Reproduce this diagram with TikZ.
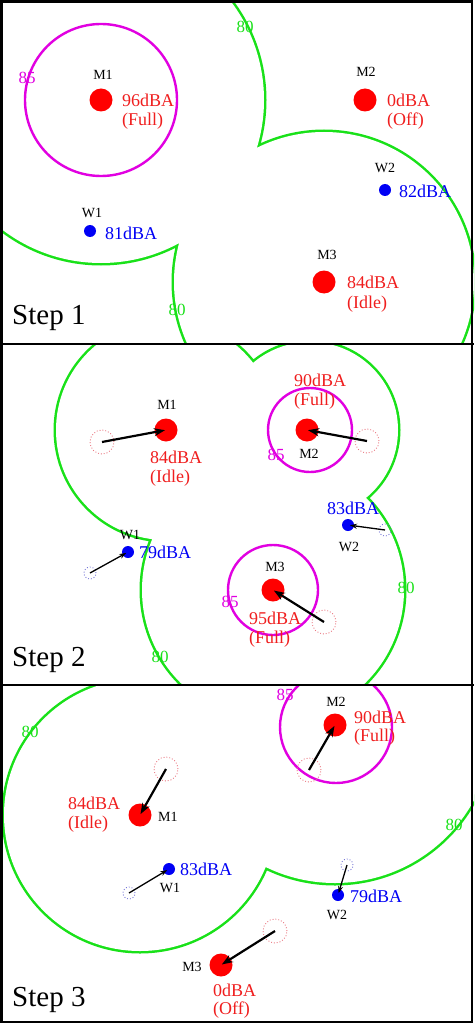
\documentclass[tikz,border=0pt]{standalone}
\usepackage{fontspec}
\setmainfont{Liberation Serif}
\usetikzlibrary{arrows.meta}
\definecolor{cgreen}{RGB}{25,225,25}
\definecolor{cmag}{RGB}{225,0,225}
\definecolor{cred}{RGB}{255,0,0}
\definecolor{ctred}{RGB}{240,30,30}
\definecolor{cblue}{RGB}{0,0,245}
\definecolor{cpink}{RGB}{235,120,130}
\definecolor{cpblue}{RGB}{120,120,215}
\begin{document}
\begin{tikzpicture}[x=1pt,y=-1pt,
  mdot/.style={circle,fill=cred,inner sep=0,minimum size=23pt},
  wdot/.style={circle,fill=cblue,inner sep=0,minimum size=12pt},
  mold/.style={circle,draw=cpink,dotted,inner sep=0,minimum size=24pt,line width=0.9pt},
  wold/.style={circle,draw=cpblue,dotted,inner sep=0,minimum size=12pt,line width=0.9pt},
  lab/.style={font=\fontsize{14}{14}\selectfont,inner sep=0},
  val/.style={text=ctred,font=\fontsize{18}{18}\selectfont,inner sep=0},
  wval/.style={text=cblue,font=\fontsize{18}{18}\selectfont,inner sep=0},
  lbl85/.style={text=cmag,font=\fontsize{17}{17}\selectfont,inner sep=0},
  lbl80/.style={text=cgreen,font=\fontsize{17}{17}\selectfont,inner sep=0},
  steplab/.style={font=\fontsize{29}{29}\selectfont,inner sep=0,anchor=west},
  marr/.style={-{Stealth[length=11pt,width=8pt]},line width=2.2pt,shorten >=1pt},
  warr/.style={-{Stealth[length=7pt,width=5pt]},line width=1.3pt,shorten >=2pt},
  contour/.style={draw=cgreen,line width=5pt},
  ring/.style={draw=cmag,line width=2.4pt}
]
\useasboundingbox (0,0) rectangle (474,1024);
\fill[white] (0,0) rectangle (474,1024);

% ================= Step 1 =================
\begin{scope}
\clip (0,0) rectangle (474,344);
\draw[contour] (101,100) circle[radius=163] (324,282) circle[radius=150];
\fill[white] (101,100) circle[radius=163] (324,282) circle[radius=150];
\draw[ring] (101,100) circle[radius=76];
\end{scope}
\node[lbl85] (a85) at (27,78) {85};
\node[lbl80] (a80a) at (245,27) {80};
\node[lbl80] (a80b) at (177,310) {80};
\node[mdot] (am1) at (101,100) {};
\node[lab] (am1l) at (103,75) {M1};
\node[val,anchor=west] (am1v) at (122,100) {96dBA};
\node[val,anchor=west] (am1s) at (122,121) {(Full)};
\node[mdot] (am2) at (365,100) {};
\node[lab] (am2l) at (366,72) {M2};
\node[val,anchor=west] (am2v) at (387,100) {0dBA};
\node[val,anchor=west] (am2s) at (387,121) {(Off)};
\node[mdot] (am3) at (324,282) {};
\node[lab] (am3l) at (327,255) {M3};
\node[val,anchor=west] (am3v) at (347,282) {84dBA};
\node[val,anchor=west] (am3s) at (347,304) {(Idle)};
\node[wdot] (aw1) at (90,231) {};
\node[lab] (aw1l) at (92,213) {W1};
\node[wval,anchor=west] (aw1v) at (105,233) {81dBA};
\node[wdot] (aw2) at (385,190) {};
\node[lab] (aw2l) at (385,168) {W2};
\node[wval,anchor=west] (aw2v) at (399,191) {82dBA};
\node[steplab] (s1) at (12,318) {Step 1};

% ================= Step 2 =================
\begin{scope}
\clip (0,344) rectangle (474,685);
\draw[contour] (166,430) circle[radius=110] (310,430) circle[radius=88] (273,590) circle[radius=131];
\fill[white] (166,430) circle[radius=110] (310,430) circle[radius=88] (273,590) circle[radius=131];
\draw[ring] (310,430) circle[radius=42];
\draw[ring] (273,590) circle[radius=45];
\end{scope}
\node[lbl85] (b85a) at (276,455) {85};
\node[lbl85] (b85b) at (230,602) {85};
\node[lbl80] (b80a) at (160,657) {80};
\node[lbl80] (b80b) at (406,588) {80};
% M1
\node[mold] (bp1) at (102,442) {};
\node[mdot] (bm1) at (166,430) {};
\node[lab] (bm1l) at (167,405) {M1};
\node[val,anchor=west] (bm1v) at (150,457) {84dBA};
\node[val,anchor=west] (bm1s) at (150,478) {(Idle)};
\draw[marr] (bp1.center) -- (bm1.center);
% M2
\node[mold] (bp2) at (367,441) {};
\node[mdot] (bm2) at (307,430) {};
\node[lab] (bm2l) at (309,454) {M2};
\node[val,anchor=west] (bm2v) at (294,380) {90dBA};
\node[val,anchor=west] (bm2s) at (294,401) {(Full)};
\draw[marr] (bp2.center) -- (bm2.center);
% M3
\node[mold] (bp3) at (324,622) {};
\node[mdot] (bm3) at (273,590) {};
\node[lab] (bm3l) at (275,567) {M3};
\node[val,anchor=west] (bm3v) at (249,618) {95dBA};
\node[val,anchor=west] (bm3s) at (249,639) {(Full)};
\draw[marr] (bp3.center) -- (bm3.center);
% W1
\node[wold] (bq1) at (90,573) {};
\node[wdot] (bw1) at (128,552) {};
\node[lab] (bw1l) at (130,535) {W1};
\node[wval,anchor=west] (bw1v) at (139,552) {79dBA};
\draw[warr] (bq1.center) -- (bw1.center);
% W2
\node[wold] (bq2) at (385,530) {};
\node[wdot] (bw2) at (348,525) {};
\node[lab] (bw2l) at (349,547) {W2};
\node[wval,anchor=west] (bw2v) at (327,508) {83dBA};
\draw[warr] (bq2.center) -- (bw2.center);
\node[steplab] (s2) at (12,660) {Step 2};

% ================= Step 3 =================
\begin{scope}
\clip (0,685) rectangle (474,1024);
\draw[contour] (140,815) circle[radius=136] (335,725) circle[radius=158];
\fill[white] (140,815) circle[radius=136] (335,725) circle[radius=158];
\draw[ring] (336,727) circle[radius=56];
\end{scope}
\node[lbl85] (c85) at (285,695) {85};
\node[lbl80] (c80a) at (30,732) {80};
\node[lbl80] (c80b) at (454,825) {80};
% M1
\node[mold] (cp1) at (166,769) {};
\node[mdot] (cm1) at (140,815) {};
\node[lab,anchor=west] (cm1l) at (158,817) {M1};
\node[val,anchor=west] (cm1v) at (68,803) {84dBA};
\node[val,anchor=west] (cm1s) at (68,824) {(Idle)};
\draw[marr] (cp1.center) -- (cm1.center);
% M2
\node[mold] (cp2) at (309,770) {};
\node[mdot] (cm2) at (335,725) {};
\node[lab] (cm2l) at (336,702) {M2};
\node[val,anchor=west] (cm2v) at (354,717) {90dBA};
\node[val,anchor=west] (cm2s) at (354,737) {(Full)};
\draw[marr] (cp2.center) -- (cm2.center);
% M3
\node[mold] (cp3) at (275,931) {};
\node[mdot] (cm3) at (221,965) {};
\node[lab] (cm3l) at (192,967) {M3};
\node[val,anchor=west] (cm3v) at (213,990) {0dBA};
\node[val,anchor=west] (cm3s) at (213,1010) {(Off)};
\draw[marr] (cp3.center) -- (cm3.center);
% W1
\node[wold] (cq1) at (129,893) {};
\node[wdot] (cw1) at (169,869) {};
\node[lab] (cw1l) at (170,888) {W1};
\node[wval,anchor=west] (cw1v) at (180,869) {83dBA};
\draw[warr] (cq1.center) -- (cw1.center);
% W2
\node[wold] (cq2) at (347,865) {};
\node[wdot] (cw2) at (338,895) {};
\node[lab] (cw2l) at (337,915) {W2};
\node[wval,anchor=west] (cw2v) at (350,896) {79dBA};
\draw[warr] (cq2.center) -- (cw2.center);
\node[steplab] (s3) at (12,1000) {Step 3};

% ================= frames =================
\draw[line width=2.5pt] (1.5,1.5) rectangle (472,1022);
\draw[line width=2pt] (0,344) -- (474,344);
\draw[line width=2pt] (0,685) -- (474,685);
\end{tikzpicture}
\end{document}
